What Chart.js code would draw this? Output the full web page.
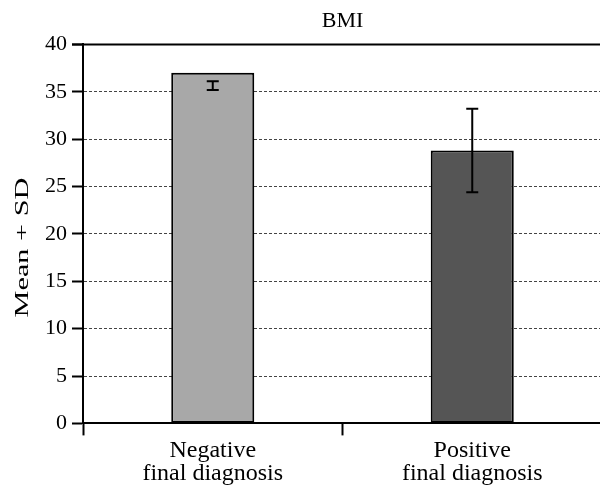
<!DOCTYPE html>
<html><head><meta charset="utf-8">
<script src="https://cdn.jsdelivr.net/npm/chart.js@4"></script>
<style>
html,body{margin:0;padding:0;background:#fff;overflow:hidden;}
#wrap{width:602px;height:490px;position:relative;}
</style></head>
<body><div id="wrap"><canvas id="c"></canvas></div>
<script>
const categories = [["Negative","final diagnosis"],["Positive","final diagnosis"]];
const means = [37.0, 28.8];
const errCenters = [35.65, 28.8];
const errSD = [0.45, 4.4];
const barColors = ["#a8a8a8", "#555555"];
const yTicks = [0,5,10,15,20,25,30,35,40];
const yTitle = "Mean + SD";
const chartTitle = "BMI";

const FONT = "'Liberation Serif','Times New Roman',serif";

const errorBars = {
  id: 'errorBars',
  afterDatasetsDraw(chart){
    const ctx = chart.ctx, y = chart.scales.y;
    const meta = chart.getDatasetMeta(0);
    ctx.save();
    ctx.strokeStyle = '#000'; ctx.lineWidth = 2;
    meta.data.forEach((bar,i)=>{
      const x = bar.x;
      const yHi = y.getPixelForValue(errCenters[i]+errSD[i]);
      const yLo = y.getPixelForValue(errCenters[i]-errSD[i]);
      ctx.beginPath();
      ctx.moveTo(x,yHi); ctx.lineTo(x,yLo);
      ctx.moveTo(x-6,yHi); ctx.lineTo(x+6,yHi);
      ctx.moveTo(x-6,yLo); ctx.lineTo(x+6,yLo);
      ctx.stroke();
    });
    ctx.restore();
  }
};
const topLine = {
  id:'topLine',
  beforeDatasetsDraw(chart){
    const ctx = chart.ctx, y = chart.scales.y, a = chart.chartArea;
    const py = y.getPixelForValue(yTicks[yTicks.length-1]);
    ctx.save();
    ctx.strokeStyle='#000'; ctx.lineWidth=2;
    ctx.beginPath(); ctx.moveTo(a.left-11,py); ctx.lineTo(a.right,py); ctx.stroke();
    ctx.restore();
  }
};
const yTitlePlugin = {
  id:'yTitlePlugin',
  afterDraw(chart){
    const ctx = chart.ctx;
    ctx.save();
    ctx.font = "19px " + FONT;
    ctx.fillStyle = '#000';
    const w = ctx.measureText(yTitle).width;
    const target = 140;
    ctx.translate(28, 247.5);
    ctx.rotate(-Math.PI/2);
    ctx.scale(target/w, 1);
    ctx.textAlign = 'center';
    ctx.textBaseline = 'alphabetic';
    ctx.fillText(yTitle, 0, 0);
    ctx.restore();
  }
};

new Chart(document.getElementById('c'), {
  type: 'bar',
  data: {
    labels: categories,
    datasets: [{
      data: means,
      backgroundColor: barColors,
      borderColor: '#000',
      borderWidth: 2,
      borderSkipped: false,
      barPercentage: 0.32,
      categoryPercentage: 1.0
    }]
  },
  options: {
    responsive: true,
    maintainAspectRatio: false,
    animation: false,
    layout: { padding: { left: 0, right: 0, top: 0, bottom: 1 } },
    plugins: {
      legend: { display: false },
      tooltip: { enabled: false },
      title: {
        display: true, text: chartTitle, color: '#000', fullSize: false,
        font: { family: FONT, size: 22, weight: 'normal', lineHeight: 1.2 },
        padding: { top: 8, bottom: 10 }
      }
    },
    scales: {
      x: {
        offset: true,
        grid: { offset: true, drawOnChartArea: false, drawTicks: true, tickLength: 12, tickColor: '#000', tickWidth: 2 },
        border: { display: true, color: '#000', width: 2 },
        ticks: { color: '#000', font: { family: FONT, size: 24, lineHeight: 0.95 }, padding: 4 }
      },
      y: {
        min: 0, max: 40,
        afterBuildTicks(scale){ scale.ticks = yTicks.map(v=>({value:v})); },
        afterFit(scale){ scale.width = 83; },
        grid: { color: '#444', lineWidth: 1, drawTicks: true, tickLength: 11, tickColor: '#000', tickWidth: 2 },
        border: { display: true, color: '#000', width: 2, dash: [3,2] },
        ticks: { color: '#000', font: { family: FONT, size: 22 }, padding: 5 }
      }
    }
  },
  plugins: [errorBars, topLine, yTitlePlugin]
});
</script></body></html>
